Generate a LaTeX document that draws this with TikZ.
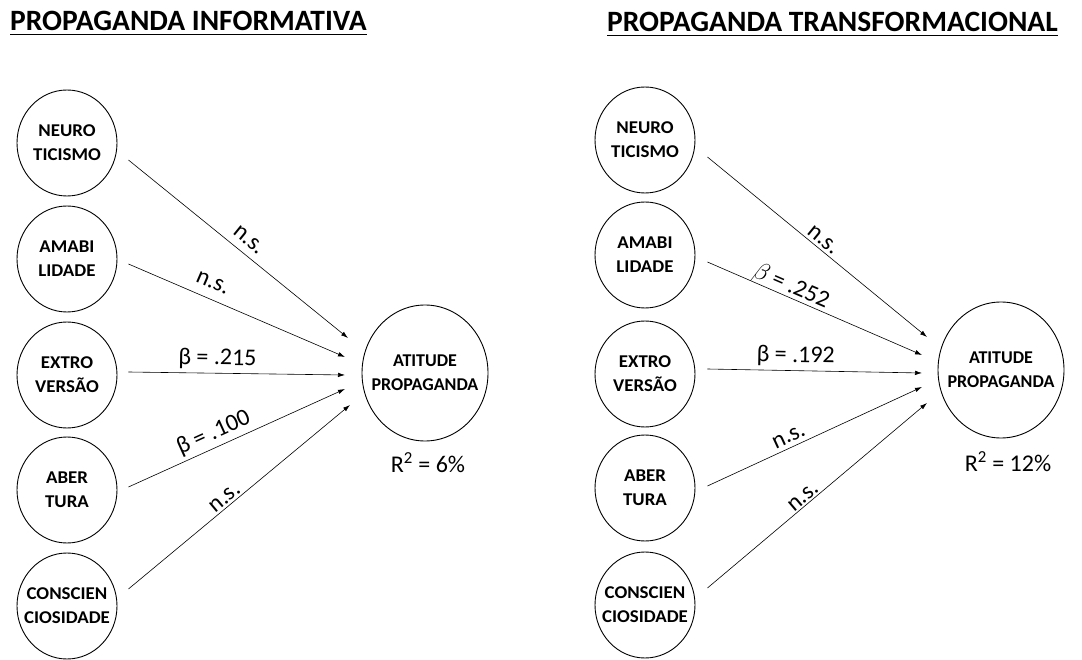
\documentclass[tikz,border=0pt]{standalone}
\usepackage{fontspec}
\setmainfont{Carlito}
\newfontfamily\trfont[FakeStretch=1.05]{Carlito}
\usetikzlibrary{arrows.meta,positioning,shapes.geometric}

\begin{document}
\begin{tikzpicture}[x=1pt,y=-1pt,
      trait/.style={draw,ellipse,line width=0.9pt,minimum width=100pt,minimum height=106pt,
                    inner sep=-14pt,align=center,font=\trfont\fontsize{18}{24}\selectfont\bfseries},
      outc/.style={trait,minimum width=126pt,minimum height=136pt,
                   font=\fontsize{18}{24}\selectfont\bfseries},
      ar/.style={-{Latex[length=7pt,width=4.5pt]},line width=0.6pt},
      lbl/.style={font=\fontsize{24}{26}\selectfont,sloped,inner sep=0pt,text depth=0pt},
      ttl/.style={font=\fontsize{29.5}{32}\selectfont\bfseries,anchor=base west,inner sep=0pt},
      rsq/.style={font=\fontsize{24}{26}\selectfont}]
    \useasboundingbox (0,0) rectangle (1082,660);
    % informativa
    \node[ttl] (tinf) at (10,31) {PROPAGANDA INFORMATIVA};
    \draw[line width=1.6pt] ([yshift=-3pt]tinf.south west) -- ([yshift=-3pt]tinf.south east);
    \foreach \n/\t/\y in {neu/{NEURO\\TICISMO}/143,ama/{AMABI\\LIDADE}/259,
        ext/{EXTRO\\VERSÃO}/375,abe/{ABER\\TURA}/490,con/{CONSCIEN\\CIOSIDADE}/606} {
      \node[trait] (\n1) at (67,\y) {\t};}
    \node[outc] (att1) at (425,373) {ATITUDE\\PROPAGANDA};
    \node[rsq] (rsq1) at (428,463) {R\textsuperscript{2} = 6\%};
    \coordinate (tneu1) at (348,338);
    \coordinate (tama1) at (345,357);
    \coordinate (text1) at (345,375);
    \coordinate (tabe1) at (345,389);
    \coordinate (tcon1) at (350,405);
    \draw[ar] ([shift={(11,17)}]neu1.east) -- (tneu1) node[lbl,pos=0.51,above=7.5pt] {n.s.};
    \draw[ar] ([shift={(11,5)}]ama1.east) -- (tama1) node[lbl,pos=0.36,above=10pt] {n.s.};
    \draw[ar] ([shift={(11,-3)}]ext1.east) -- (text1) node[lbl,pos=0.41,above=8pt] {β = .215};
    \draw[ar] ([shift={(11,-3)}]abe1.east) -- (tabe1) node[lbl,pos=0.42,above=7.5pt] {β = .100};
    \draw[ar] ([shift={(11,-17)}]con1.east) -- (tcon1) node[lbl,pos=0.46,above=2.5pt] {n.s.};
    % transformacional
    \node[ttl] (ttra) at (607,32) {PROPAGANDA TRANSFORMACIONAL};
    \draw[line width=1.6pt] ([yshift=-3pt]ttra.south west) -- ([yshift=-3pt]ttra.south east);
    \foreach \n/\t/\y in {neu/{NEURO\\TICISMO}/140,ama/{AMABI\\LIDADE}/255,
        ext/{EXTRO\\VERSÃO}/374,abe/{ABER\\TURA}/488,con/{CONSCIEN\\CIOSIDADE}/605} {
      \node[trait] (\n2) at (645,\y) {\t};}
    \node[outc] (att2) at (1001,370) {ATITUDE\\PROPAGANDA};
    \node[rsq] (rsq2) at (1008,462) {R\textsuperscript{2} = 12\%};
    \coordinate (tneu2) at (927,337);
    \coordinate (tama2) at (922,355);
    \coordinate (text2) at (922,373);
    \coordinate (tabe2) at (922,387);
    \coordinate (tcon2) at (927,403);
    \draw[ar] ([shift={(12,17)}]neu2.east) -- (tneu2) node[lbl,pos=0.50,above=3.5pt] {n.s.};
    \draw[ar] ([shift={(12,7)}]ama2.east) -- (tama2) node[lbl,pos=0.37,above=4pt] {$\beta$ = .252};
    \draw[ar] ([shift={(12,-5)}]ext2.east) -- (text2) node[lbl,pos=0.41,above=8pt] {β = .192};
    \draw[ar] ([shift={(12,-2)}]abe2.east) -- (tabe2) node[lbl,pos=0.40,above=4.5pt] {n.s.};
    \draw[ar] ([shift={(12,-17)}]con2.east) -- (tcon2) node[lbl,pos=0.46,above=1.5pt] {n.s.};
\end{tikzpicture}
\end{document}
